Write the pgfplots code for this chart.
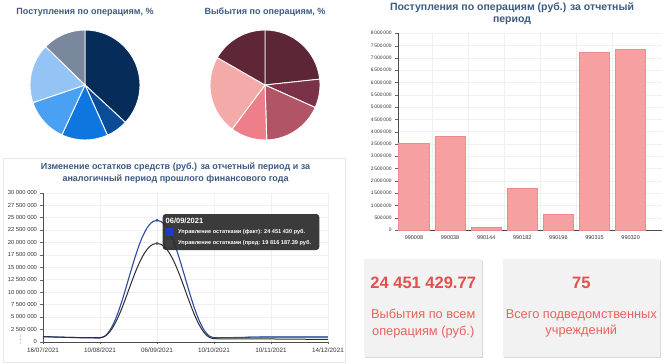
\documentclass[border=0pt]{standalone}
\usepackage{fontspec}
\setmainfont{Liberation Sans}
\usepackage{pgfplots}
\pgfplotsset{compat=1.18}
\definecolor{titlec}{HTML}{3C5A82}
\definecolor{pA}{HTML}{062C5A}
\definecolor{pB}{HTML}{0B4C99}
\definecolor{pC}{HTML}{0F76E0}
\definecolor{pD}{HTML}{4AA0F2}
\definecolor{pE}{HTML}{94C3F5}
\definecolor{pF}{HTML}{7A889E}
\definecolor{rA}{HTML}{5C2636}
\definecolor{rB}{HTML}{7B3147}
\definecolor{rC}{HTML}{B05466}
\definecolor{rD}{HTML}{EF7E8B}
\definecolor{rE}{HTML}{F3AAA8}
\definecolor{rF}{HTML}{5E2637}
\definecolor{factc}{HTML}{2B4AA6}
\definecolor{planc}{HTML}{2E2E2E}
\definecolor{barfill}{HTML}{F7A0A2}
\definecolor{barline}{HTML}{EE8A8E}
\definecolor{cardred}{HTML}{E2514E}
\definecolor{cardred2}{HTML}{E8625F}
\definecolor{cardbg}{HTML}{F2F2F2}
\definecolor{tipbg}{HTML}{2D2D2D}
\definecolor{tipblue}{HTML}{1A3FC4}
\definecolor{tipgray}{HTML}{404040}
\newcommand{\pieslice}[3]{\fill[#1, draw=white, line width=0.9pt] (axis cs:0,0) -- ++({90-3.6*(#2)}:55pt) arc[start angle={90-3.6*(#2)}, delta angle={-3.6*(#3)}, radius=55pt] -- cycle;}
\pgfplotstableread{
x fact plan
0 1050000 1000000
1 750000 800000
2 24451430 19816187.39
3 800000 600000
4 950000 550000
5 950000 450000
}\linedata
\pgfplotstableread{
x val
0 3525000
1 3800000
2 120000
3 1680000
4 620000
5 7230000
6 7340000
}\bardata
\begin{document}
\begin{tikzpicture}
\useasboundingbox (0,0) rectangle (670pt,-364pt);
\fill[white] (0,0) rectangle (670pt,-364pt);
% panel border for line chart
\draw[gray!18] (3pt,-158pt) rectangle (345pt,-362.5pt);
% pie titles
\node[font=\bfseries\fontsize{9}{10}\selectfont, text=titlec] at (85pt,-12.5pt) {Поступления по операциям, \%};
\node[font=\bfseries\fontsize{9}{10}\selectfont, text=titlec] at (265pt,-12.5pt) {Выбытия по операциям, \%};
% left pie
\begin{axis}[at={(85pt,-85pt)}, anchor=center, scale only axis, width=110pt, height=110pt,
  xmin=-1, xmax=1, ymin=-1, ymax=1, hide axis, clip=false]
\pieslice{pA}{0}{36.9}
\pieslice{pB}{36.9}{6.4}
\pieslice{pC}{43.3}{13.6}
\pieslice{pD}{56.9}{12.9}
\pieslice{pE}{69.8}{17.5}
\pieslice{pF}{87.3}{12.7}
\end{axis}
% right pie
\begin{axis}[at={(265pt,-85pt)}, anchor=center, scale only axis, width=110pt, height=110pt,
  xmin=-1, xmax=1, ymin=-1, ymax=1, hide axis, clip=false]
\pieslice{rA}{0}{23.3}
\pieslice{rB}{23.3}{8.4}
\pieslice{rC}{31.7}{17.8}
\pieslice{rD}{49.5}{10.7}
\pieslice{rE}{60.2}{23.1}
\pieslice{rF}{83.3}{16.7}
\end{axis}
% line chart title
\node[font=\bfseries\fontsize{9}{12.6}\selectfont, text=titlec, align=center] at (175.5pt,-173pt)
  {Изменение остатков средств (руб.) за отчетный период и за\\аналогичный период прошлого финансового года};
\begin{axis}[at={(43pt,-341.7pt)}, anchor=south west, scale only axis, width=285pt, height=149pt,
  xmin=0, xmax=5, ymin=0, ymax=30000000,
  xtick={0,1,2,3,4,5},
  xticklabels={16/07/2021,10/08/2021,06/09/2021,10/10/2021,10/11/2021,14/12/2021},
  ytick distance=2500000, scaled y ticks=false,
  xticklabel style={font=\fontsize{6.3}{7}\selectfont, text=black!80},
  yticklabel style={font=\fontsize{5.8}{7}\selectfont, text=black!80, /pgf/number format/.cd, fixed, precision=0, 1000 sep={\ }, assume math mode=true},
  axis x line=bottom, axis y line=left, axis line style={-, black!70},
  tick style={black!60}, tick align=outside, major tick length=2.5pt,
  xmajorgrids, ymajorgrids, grid style={gray!12, line width=0.4pt},
  xtick pos=bottom, ytick pos=left]
% spline segments through the data points (horizontal tangents at local extremes)
\draw[factc!35, line width=2.6pt] (axis cs:3.6,950000) -- (axis cs:5,950000);
\draw[factc, line width=1.1pt] (axis cs:0,1050000) .. controls (axis cs:0,1050000) and (axis cs:0.6,750000) .. (axis cs:1,750000)
  .. controls (axis cs:1.4,750000) and (axis cs:1.6,24451430) .. (axis cs:2,24451430)
  .. controls (axis cs:2.4,24451430) and (axis cs:2.6,800000) .. (axis cs:3,800000)
  .. controls (axis cs:3.4,800000) and (axis cs:3.6,950000) .. (axis cs:4,950000)
  .. controls (axis cs:4.4,950000) and (axis cs:5,950000) .. (axis cs:5,950000);
\draw[planc, line width=1.0pt] (axis cs:0,1000000) .. controls (axis cs:0,1000000) and (axis cs:0.6,800000) .. (axis cs:1,800000)
  .. controls (axis cs:1.4,800000) and (axis cs:1.6,19816187.39) .. (axis cs:2,19816187.39)
  .. controls (axis cs:2.4,19816187.39) and (axis cs:2.6,600000) .. (axis cs:3,600000)
  .. controls (axis cs:3.4,550000) and (axis cs:3.6,580000) .. (axis cs:4,550000)
  .. controls (axis cs:4.4,520000) and (axis cs:5,450000) .. (axis cs:5,450000);
\addplot[draw=none, mark=o, mark indices={3}, mark size=1.3pt, mark options={factc, line width=0.6pt}] table[x=x, y=fact] {\linedata};
\addplot[draw=none, mark=o, mark indices={3}, mark size=1.3pt, mark options={black!60, line width=0.6pt}] table[x=x, y=plan] {\linedata};
\end{axis}
% menu icon
\foreach \yy in {336,339.5,343} \fill[gray!70] (20.5pt,-\yy pt) circle (0.6pt);
% tooltip
\fill[tipbg, opacity=0.93, rounded corners=3pt] (162.7pt,-214pt) rectangle (319.3pt,-250pt);
\node[anchor=west, font=\bfseries\fontsize{7.5}{8}\selectfont, text=white, inner sep=0pt] at (165.5pt,-220.5pt) {06/09/2021};
\fill[tipblue] (165.5pt,-228pt) rectangle (172.5pt,-235.5pt);
\fill[tipgray] (165.5pt,-239.5pt) rectangle (172.5pt,-247pt);
\node[anchor=west, font=\bfseries\fontsize{5.6}{7}\selectfont, text=white, inner sep=0pt] at (178pt,-231.8pt) {Управление остатками (факт): 24 451 430 руб.};
\node[anchor=west, font=\bfseries\fontsize{5.6}{7}\selectfont, text=white, inner sep=0pt] at (178pt,-243.2pt) {Управление остатками (пред: 19 816 187.39 руб.};
% bar chart title
\node[font=\bfseries\fontsize{10.5}{12}\selectfont, text=titlec, align=center] at (512pt,-13.3pt)
  {Поступления по операциям (руб.) за отчетный\\период};
\begin{axis}[at={(397.7pt,-230pt)}, anchor=south west, scale only axis, width=264pt, height=196.7pt,
  xmin=-0.45, xmax=6.86, ymin=0, ymax=8000000,
  xtick={0,1,2,3,4,5,6},
  xticklabels={990008,990038,990144,990182,990196,990315,990320},
  minor xtick={0.5,1.5,2.5,3.5,4.5,5.5},
  ytick distance=500000, scaled y ticks=false,
  xticklabel style={font=\fontsize{5.5}{6}\selectfont, text=black!80},
  yticklabel style={font=\fontsize{4.9}{6}\selectfont, text=black!80, /pgf/number format/.cd, fixed, precision=0, 1000 sep={\,}, assume math mode=true},
  axis x line=bottom, axis y line=left, axis line style={-, black!70},
  tick style={black!60}, tick align=outside,
  major tick length=2.5pt, minor tick length=2.5pt,
  xtick style={draw=none}, minor x tick style={black!60},
  xminorgrids, ymajorgrids, minor grid style={gray!12, line width=0.4pt}, major grid style={gray!12, line width=0.4pt},
  xtick pos=bottom, ytick pos=left]
\addplot[ybar, bar width=0.84, fill=barfill, draw=barline, line width=0.8pt] table[x=x, y=val] {\bardata};
\end{axis}
% cards
\fill[gray!30] (364.8pt,-260.5pt) rectangle (483.3pt,-358.2pt);
\fill[cardbg] (364pt,-259.3pt) rectangle (482.3pt,-356.7pt);
\fill[gray!30] (503.5pt,-260.5pt) rectangle (661pt,-358.2pt);
\fill[cardbg] (502.7pt,-259.3pt) rectangle (660pt,-356.7pt);
\node[font=\bfseries\fontsize{16.5}{18}\selectfont, text=cardred] at (423.2pt,-283pt) {24 451 429.77};
\node[font=\fontsize{12.8}{16.7}\selectfont, text=cardred2, align=center] at (423.2pt,-323.3pt) {Выбытия по всем\\операциям (руб.)};
\node[font=\bfseries\fontsize{16.5}{18}\selectfont, text=cardred] at (581.3pt,-283pt) {75};
\node[font=\fontsize{12.8}{16.7}\selectfont, text=cardred2, align=center] at (581.3pt,-323.3pt) {Всего подведомственных\\учреждений};
\end{tikzpicture}
\end{document}
